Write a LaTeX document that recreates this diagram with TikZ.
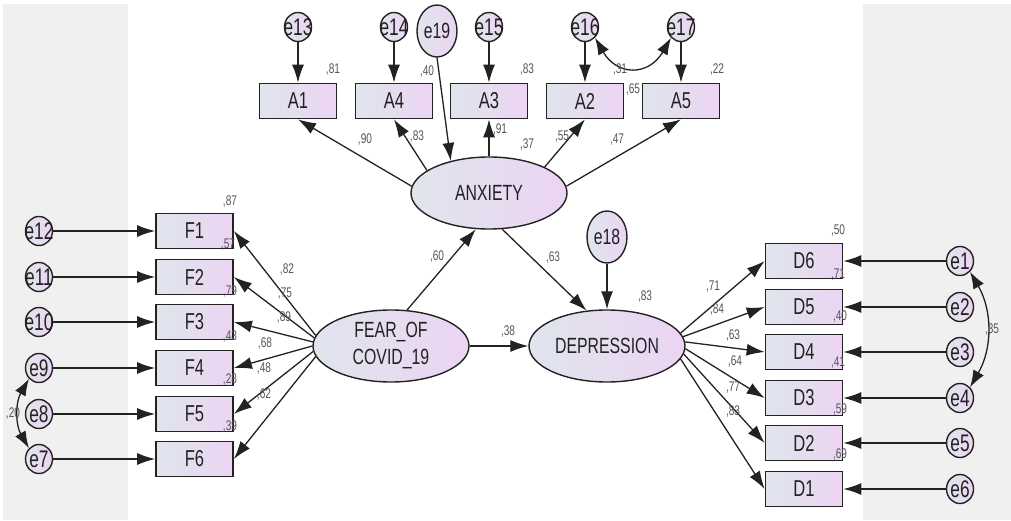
\documentclass[tikz,border=0pt]{standalone}
\usepackage{fontspec}
\setmainfont{Liberation Sans}[FakeStretch=0.72]
\usepackage{tikz}
\usetikzlibrary{shapes.geometric,arrows.meta}

\definecolor{semL}{RGB}{224,229,237}
\definecolor{semR}{RGB}{236,212,242}
\definecolor{panel}{RGB}{240,240,240}
\definecolor{ink}{RGB}{34,34,34}
\definecolor{numgray}{RGB}{85,85,85}

\tikzset{
    obs/.style={rectangle, draw=ink, line width=1.7pt, left color=semL, right color=semR,
        minimum width=77pt, minimum height=35pt, inner sep=0pt, text=ink,
        font=\fontsize{23}{27}\selectfont},
    lat/.style={ellipse, draw=ink, line width=1.4pt, left color=semL, right color=semR,
        minimum width=156pt, minimum height=72pt, inner sep=0pt, align=center, text=ink,
        font=\fontsize{22}{27}\selectfont},
    err/.style={ellipse, draw=ink, line width=1.4pt, left color=semL, right color=semR,
        minimum width=27pt, minimum height=29pt, inner sep=0pt, text=ink,
        font=\fontsize{24}{28}\selectfont},
    bigerr/.style={err, minimum width=40pt, minimum height=52pt, font=\fontsize{22}{26}\selectfont},
    num/.style={inner sep=0pt, text=numgray, font=\fontsize{14}{16}\selectfont},
    arr/.style={draw=ink, line width=1.3pt, -{Latex[length=18pt,width=12pt]}},
    cov/.style={draw=ink, line width=1.3pt, {Latex[length=17pt,width=12pt]}-{Latex[length=17pt,width=12pt]}}
}

\begin{document}
\begin{tikzpicture}[x=1pt, y=1pt]
    % side panels
    \fill[panel] (3,0) rectangle (128,516);
    \fill[panel] (863,0) rectangle (1011,516);
    \useasboundingbox (0,0) rectangle (1011,520);

    % anxiety indicators
    \foreach \n/\e/\x in {A1/e13/298, A4/e14/394, A3/e15/489, A2/e16/585, A5/e17/681} {
        \node[obs] (\n) at (\x,419) {\n};
        \node[err] (\e) at (\x,493) {\makebox[0pt]{\e}};
        \draw[arr] (\e) -- (\n);
    }

    % latent variables
    \node[lat] (anx) at (489,327) {ANXIETY};
    \node[lat] (fear) at (391,174) {FEAR\_OF\\COVID\_19};
    \node[lat] (dep) at (607,174) {DEPRESSION};
    \node[bigerr] (e19) at (437,489) {\makebox[0pt]{e19}};
    \node[bigerr] (e18) at (607,283) {\makebox[0pt]{e18}};

    % fear indicators
    \foreach \i/\y/\e/\a in {1/289/12/172, 2/243/11/174, 3/198/10/177, 4/152/9/180, 5/106/8/184, 6/61/7/188} {
        \node[obs] (F\i) at (194.5,\y) {F\i};
        \node[err] (e\e) at (39,\y) {\makebox[0pt]{e\e}};
        \draw[arr] (e\e) -- (F\i);
        \draw[arr] (fear.\a) -- (F\i.east);
    }

    % depression indicators
    \foreach \d/\y/\e/\a in {6/259/1/10, 5/213/2/7, 4/168/3/3, 3/122/4/-2, 2/77/5/-6, 1/31/6/-10} {
        \node[obs] (D\d) at (804,\y) {D\d};
        \node[err] (e\e) at (960,\y) {\makebox[0pt]{e\e}};
        \draw[arr] (e\e) -- (D\d);
        \draw[arr] (dep.\a) -- (D\d.west);
    }

    % structural paths
    \draw[arr] (anx.175) -- (A1.south);
    \draw[arr] (anx.160) -- (A4.south);
    \draw[arr] (anx.north) -- (A3.south);
    \draw[arr] (anx.25) -- (A2.south);
    \draw[arr] (anx.5) -- (A5.south);
    \draw[arr] (e19.south) -- (anx.140);
    \draw[arr] (fear.66) -- (anx.250);
    \draw[arr] (anx.290) -- (dep.120);
    \draw[arr] (fear.east) -- (dep.west);
    \draw[arr] (e18) -- (dep);

    % covariances
    \draw[cov] (e16.south east) to[out=-60, in=-120, looseness=1.5] (e17.south west);
    \draw[cov] (e1.south east) to[out=-60, in=60] (e4.north east);
    \draw[cov] (e9.south west) to[out=-120, in=120] (e7.north west);

    % estimates
    \foreach \t/\x/\y [count=\k] in {
        81/333/450, 40/427/448, 83/527/450, 31/620/450, 65/633/430, 22/717/450,
        90/365/380, 83/417/383, 91/500/390, 37/527/375, 55/562/383, 47/617/380,
        60/437/263, 63/553/262, 83/645/223, 38/508/188,
        87/230/318, 57/228/275, 79/230/228, 43/230/183, 28/230/140, 39/230/93,
        82/287/250, 75/285/226, 89/284/202, 68/265/176, 48/264/151, 62/264/125,
        20/13/106,
        50/838/289, 71/838/245, 40/840/203, 41/838/157, 59/840/110, 69/840/65,
        71/713/233, 84/717/210, 63/733/184, 64/735/158, 77/733/132, 83/733/108,
        35/992/190}
        \node[num] (v\k) at (\x,\y) {,\t};
\end{tikzpicture}
\end{document}
